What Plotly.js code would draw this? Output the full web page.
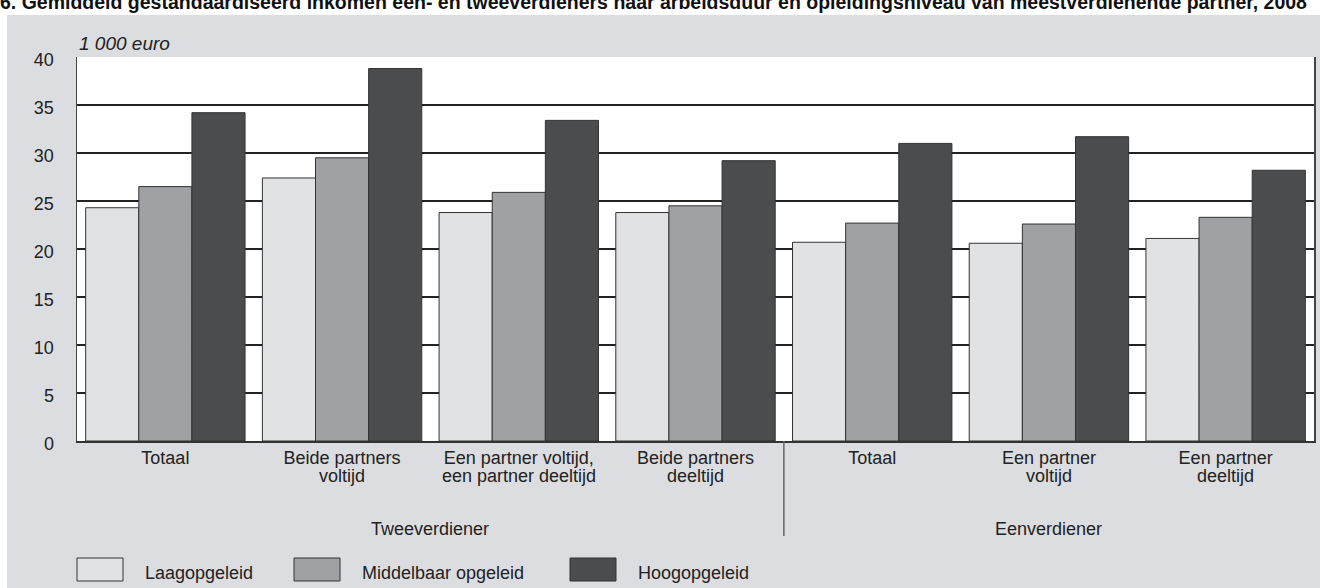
<!DOCTYPE html>
<html><head><meta charset="utf-8">
<script src="https://cdn.plot.ly/plotly-3.0.1.min.js"></script>
<style>html,body{margin:0;padding:0;background:#fff;} #chart{width:1320px;height:588px;}</style>
</head><body><div id="chart"></div>
<script>
const categoryLine1 = ["Totaal", "Beide partners", "Een partner voltijd,", "Beide partners", "Totaal", "Een partner", "Een partner"];
const categoryLine2 = ["", "voltijd", "een partner deeltijd", "deeltijd", "", "voltijd", "deeltijd"];
const groups = ["Tweeverdiener", "Eenverdiener"];
const groupSizes = [4, 3];
const seriesNames = ["Laagopgeleid", "Middelbaar opgeleid", "Hoogopgeleid"];
const laag = [24.3, 27.4, 23.8, 23.8, 20.7, 20.6, 21.1];
const middelbaar = [26.5, 29.5, 25.9, 24.5, 22.7, 22.6, 23.3];
const hoog = [34.2, 38.8, 33.4, 29.2, 31.0, 31.7, 28.2];
const yTickVals = [0, 5, 10, 15, 20, 25, 30, 35, 40];
const titleText = "6. Gemiddeld gestandaardiseerd inkomen een- en tweeverdieners naar arbeidsduur en opleidingsniveau van meestverdienende partner, 2008";
const unitText = "1 000 euro";

const W = 1320, H = 588;
const M = {l: 77, r: 6, t: 57, b: 147};
const PW = W - M.l - M.r, PH = H - M.t - M.b;
const px = x => (x - M.l) / PW;          // pixel -> paper x
const py = y => (H - M.b - y) / PH;      // pixel -> paper y

const FONT = "Liberation Sans, Arial, sans-serif";
const TXT = "#222";
const FS = 18;
const colors = ["#e1e2e4", "#a0a1a4", "#4b4c4e"];
const values = [laag, middelbaar, hoog];
const xIdx = categoryLine1.map((c, i) => i);

const traces = values.map((v, k) => ({
  type: "bar", name: seriesNames[k], x: xIdx, y: v,
  marker: {color: colors[k], line: {color: "#333", width: 1}},
  hoverinfo: "skip", showlegend: false
}));

const shapes = [
  {type: "rect", xref: "paper", yref: "paper", x0: px(7), x1: px(1320), y0: py(588), y1: py(15),
   fillcolor: "#dcdde0", line: {width: 0}, layer: "below"},
  {type: "rect", xref: "paper", yref: "paper", x0: 0, x1: 1, y0: 0, y1: 1,
   fillcolor: "#ffffff", line: {width: 0}, layer: "below"}
];
const annotations = [
  {text: unitText, xref: "paper", yref: "paper", x: 0, y: 1, yshift: 14, xanchor: "left", yanchor: "middle",
   showarrow: false, font: {family: FONT, size: 19, color: TXT, style: "italic"}}
];

// second lines of category labels
categoryLine2.forEach((t, i) => {
  if (t) annotations.push({text: t, xref: "x", yref: "paper", x: i, y: py(476), xanchor: "center", yanchor: "middle",
    showarrow: false, font: {family: FONT, size: FS, color: TXT}});
});

// group labels + separators
let start = 0;
groups.forEach((g, gi) => {
  const n = groupSizes[gi];
  annotations.push({text: g, xref: "x", yref: "paper", x: start + (n - 1) / 2, y: py(529),
    xanchor: "center", yanchor: "middle", showarrow: false, font: {family: FONT, size: FS, color: TXT}});
  if (gi > 0) {
    shapes.push({type: "line", xref: "x", yref: "paper", x0: start - 0.5, x1: start - 0.5, y0: 0, y1: py(536),
      line: {color: "#666769", width: 1.5}});
  }
  start += n;
});

// custom legend
const legX = [77, 294, 570];
seriesNames.forEach((n, k) => {
  shapes.push({type: "rect", xref: "paper", yref: "paper", x0: px(legX[k]), x1: px(legX[k] + 46), y0: py(581), y1: py(558),
    fillcolor: colors[k], line: {color: "#333", width: 1}});
  annotations.push({text: n, xref: "paper", yref: "paper", x: px(legX[k] + 66), y: py(573), xanchor: "left", yanchor: "middle",
    showarrow: false, font: {family: FONT, size: FS, color: TXT}});
});

const layout = {
  width: W, height: H, margin: M,
  paper_bgcolor: "#ffffff", plot_bgcolor: "rgba(0,0,0,0)",
  barmode: "group", bargap: 0.098, bargroupgap: 0,
  showlegend: false,
  title: {text: titleText, xref: "container", yref: "container", x: 0, xanchor: "left", y: 1 - 2 / H, yanchor: "middle",
    font: {family: FONT, size: 19.5, color: "#111", weight: "bold"}},
  font: {family: FONT, size: FS, color: TXT},
  xaxis: {type: "linear", range: [-0.5, categoryLine1.length - 0.5], tickvals: xIdx, ticktext: categoryLine1,
    showgrid: false, zeroline: false, showline: true, linecolor: "#333", linewidth: 1.5, ticks: "",
    tickfont: {family: FONT, size: FS, color: TXT}, ticklabelstandoff: 0, fixedrange: true},
  yaxis: {range: [0, 40], tickvals: yTickVals, showgrid: true, gridcolor: "#222", gridwidth: 1.3,
    zeroline: false, showline: true, linecolor: "#444", linewidth: 1.5, mirror: true, ticks: "",
    tickfont: {family: FONT, size: FS, color: TXT}, ticklabelstandoff: 18, ticklabelshift: 3, fixedrange: true},
  shapes: shapes, annotations: annotations
};

Plotly.newPlot("chart", traces, layout, {displayModeBar: false, staticPlot: true});
</script></body></html>
